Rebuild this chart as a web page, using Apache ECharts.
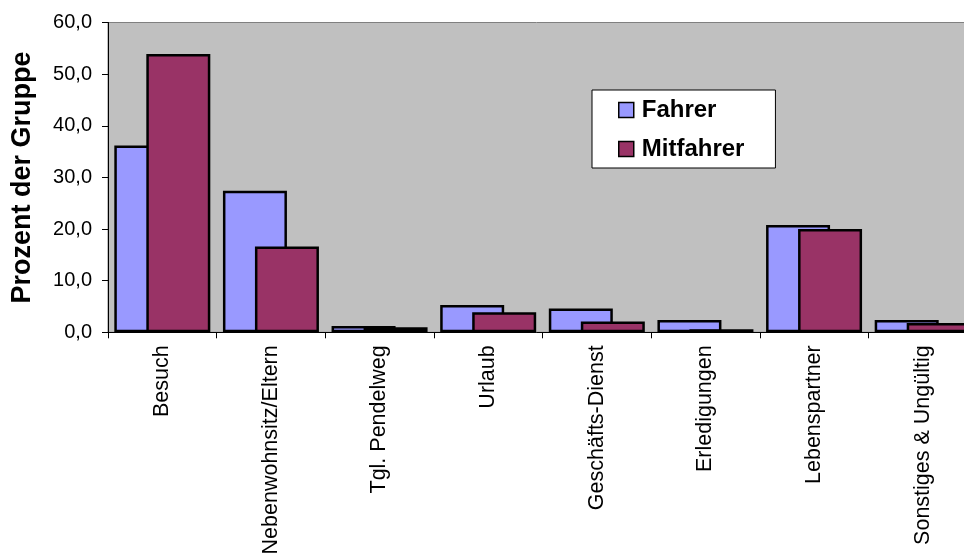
<!DOCTYPE html>
<html>
<head>
<meta charset="utf-8">
<title>Prozent der Gruppe</title>
<script src="https://cdn.jsdelivr.net/npm/echarts@6/dist/echarts.min.js"></script>
<style>
  html, body { margin: 0; padding: 0; background: #ffffff; }
  #chart { width: 964px; height: 554px; }
</style>
</head>
<body>
<div id="chart"></div>
<script>
// Anlass der Fahrt, Anteil je Gruppe in Prozent
const categories = [
  'Besuch',
  'Nebenwohnsitz/Eltern',
  'Tgl. Pendelweg',
  'Urlaub',
  'Geschäfts-Dienst',
  'Erledigungen',
  'Lebenspartner',
  'Sonstiges & Ungültig'
];
const seriesNames = ['Fahrer', 'Mitfahrer'];
const fahrer    = [36.2, 27.4, 1.2, 5.3, 4.6, 2.4, 20.8, 2.4];
const mitfahrer = [53.9, 16.6, 1.0, 3.9, 2.1, 0.6, 20.0, 1.8];
const yTicks = { min: 0, max: 60, step: 10 };

const FONT = '"Liberation Sans", Arial, Helvetica, sans-serif';
const fmt = v => v.toFixed(1).replace('.', ',');

const chart = echarts.init(document.getElementById('chart'), null, { renderer: 'canvas' });

chart.setOption({
  animation: false,
  backgroundColor: '#ffffff',
  textStyle: { fontFamily: FONT, color: '#000' },
  grid: {
    left: 108,
    top: 22.5,
    right: -13,
    bottom: 221.7,
    show: true,
    backgroundColor: '#C0C0C0',
    borderColor: '#808080',
    borderWidth: 1,
    containLabel: false,
    outerBoundsMode: 'none'
  },
  legend: {
    orient: 'vertical',
    left: 592,
    top: 90,
    padding: [8, 31, 7, 26],
    itemGap: 15,
    itemWidth: 15,
    itemHeight: 15,
    icon: 'rect',
    backgroundColor: '#ffffff',
    borderColor: '#000000',
    borderWidth: 1,
    itemStyle: { borderColor: '#000', borderWidth: 1.5 },
    textStyle: {
      fontFamily: FONT,
      fontSize: 24,
      fontWeight: 'bold',
      color: '#000',
      lineHeight: 24,
      padding: [0, 0, 0, 3]
    },
    data: seriesNames
  },
  xAxis: {
    type: 'category',
    data: categories,
    boundaryGap: true,
    axisLine: { show: true, lineStyle: { color: '#000', width: 1 } },
    axisTick: { show: true, length: 6, inside: false, lineStyle: { color: '#000' } },
    axisLabel: {
      rotate: 90,
      interval: 0,
      margin: 13,
      fontFamily: FONT,
      fontSize: 21.5,
      color: '#000'
    },
    splitLine: { show: false }
  },
  yAxis: {
    type: 'value',
    min: yTicks.min,
    max: yTicks.max,
    interval: yTicks.step,
    name: 'Prozent der Gruppe',
    nameLocation: 'middle',
    nameRotate: 90,
    nameGap: 72,
    nameTextStyle: {
      fontFamily: FONT,
      fontSize: 27,
      fontWeight: 'bold',
      color: '#000'
    },
    axisLine: { show: true, lineStyle: { color: '#000', width: 1 } },
    axisTick: { show: true, length: 6, lineStyle: { color: '#000' } },
    axisLabel: {
      margin: 16,
      fontFamily: FONT,
      fontSize: 20,
      color: '#000',
      formatter: fmt
    },
    splitLine: { show: false }
  },
  series: [
    {
      name: seriesNames[0],
      type: 'bar',
      data: fahrer,
      barWidth: 64,
      barGap: '-50%',
      itemStyle: { color: '#9999FF', borderColor: '#000', borderWidth: 2.5 }
    },
    {
      name: seriesNames[1],
      type: 'bar',
      data: mitfahrer,
      barWidth: 64,
      barGap: '-50%',
      itemStyle: { color: '#993366', borderColor: '#000', borderWidth: 2.5 }
    }
  ]
});
</script>
</body>
</html>
